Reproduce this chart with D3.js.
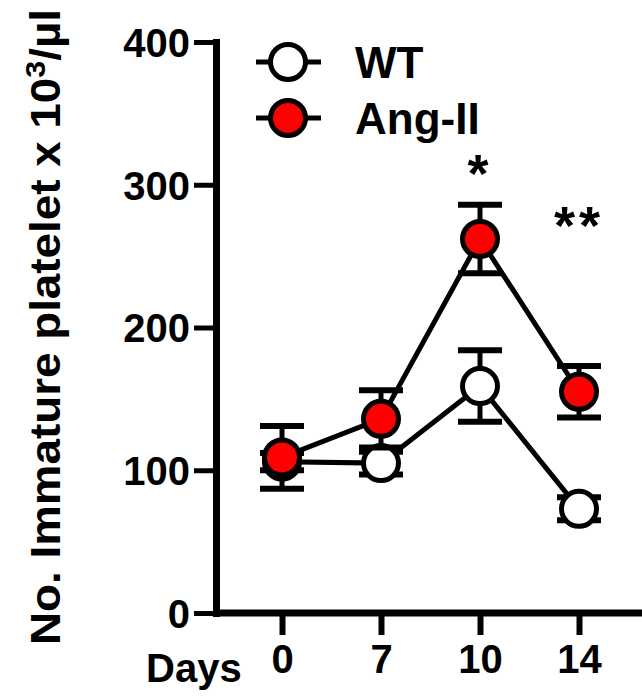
<!DOCTYPE html>
<html>
<head>
<meta charset="utf-8">
<script src="https://cdn.jsdelivr.net/npm/d3@7"></script>
<style>
  body { margin: 0; background: #fff; }
  svg { display: block; font-family: Arial, "Liberation Sans", sans-serif; font-weight: bold; }
</style>
</head>
<body>
<div id="chart"></div>
<script>
// data
const days = ["0", "7", "10", "14"]
const wtMean = [106, 105, 159, 73]
const wtErr = [6, 8, 25, 8]
const angMean = [109, 136, 262, 155]
const angErr = [22, 20, 24, 18]
const yTicks = [0, 100, 200, 300, 400]
const stars = [{ day: "10", value: 313, label: "*" }, { day: "14", value: 277, label: "**" }]

const width = 642
const height = 696

const svg = d3.select("#chart")
  .append("svg")
  .attr("width", width)
  .attr("height", height)

// plot frame
const axisX = 216
const baseY = 613

const x = d3.scalePoint().domain(days).range([282, 579])
const y = d3.scaleLinear().domain([0, 400]).range([baseY, 42])

// y axis
const yAxis = svg.append("g")
  .attr("transform", `translate(${axisX},0)`)
  .call(d3.axisLeft(y).tickValues(yTicks).tickSize(22).tickSizeOuter(0).tickPadding(4))
yAxis.select(".domain").attr("stroke", "#000").attr("stroke-width", 7).attr("stroke-linecap", "square")
yAxis.selectAll(".tick line").attr("stroke", "#000").attr("stroke-width", 5)
yAxis.selectAll(".tick text")
  .attr("fill", "#000")
  .attr("font-size", 40)
  .attr("font-family", "Arial, 'Liberation Sans', sans-serif")
  .attr("font-weight", "bold")
  .attr("dy", "0.36em")

// x axis
svg.append("line")
  .attr("x1", axisX - 3).attr("x2", width)
  .attr("y1", baseY).attr("y2", baseY)
  .attr("stroke", "#000").attr("stroke-width", 7)
const xAxis = svg.append("g")
  .attr("transform", `translate(0,${baseY})`)
  .call(d3.axisBottom(x).tickSize(22).tickSizeOuter(0).tickPadding(10))
xAxis.select(".domain").remove()
xAxis.selectAll(".tick line").attr("stroke", "#000").attr("stroke-width", 6)
xAxis.selectAll(".tick text")
  .attr("fill", "#000")
  .attr("font-size", 40)
  .attr("font-family", "Arial, 'Liberation Sans', sans-serif")
  .attr("font-weight", "bold")

svg.append("text")
  .attr("x", 146).attr("y", 682)
  .attr("font-size", 40)
  .text("Days")

// y axis title
const title = svg.append("text")
  .attr("transform", "translate(60,327) rotate(-90)")
  .attr("text-anchor", "middle")
  .attr("font-size", 42)
  .attr("textLength", 636)
  .attr("lengthAdjust", "spacingAndGlyphs")
title.append("tspan").text("No. Immature platelet x 10")
title.append("tspan").attr("dy", -15).attr("font-size", 28).text("3")
title.append("tspan").attr("dy", 15).text("/µl")

// series
const series = [
  { name: "WT", mean: wtMean, err: wtErr, fill: "#fff" },
  { name: "Ang-II", mean: angMean, err: angErr, fill: "#ff0000" }
]

const line = d3.line()
  .x((d, i) => x(days[i]))
  .y(d => y(d))

series.forEach(s => {
  const g = svg.append("g")
  const pts = days.map((d, i) => ({ day: d, m: s.mean[i], e: s.err[i] }))

  // error bars
  const eb = g.selectAll(".eb").data(pts).join("g")
  eb.append("line")
    .attr("x1", d => x(d.day)).attr("x2", d => x(d.day))
    .attr("y1", d => y(d.m + d.e)).attr("y2", d => y(d.m - d.e))
    .attr("stroke", "#000").attr("stroke-width", 5)
  eb.selectAll(".cap").data(d => [d.m + d.e, d.m - d.e].map(v => ({ day: d.day, v })))
    .join("line")
    .attr("x1", d => x(d.day) - 22).attr("x2", d => x(d.day) + 22)
    .attr("y1", d => y(d.v)).attr("y2", d => y(d.v))
    .attr("stroke", "#000").attr("stroke-width", 6)

  g.append("path")
    .attr("d", line(s.mean))
    .attr("fill", "none")
    .attr("stroke", "#000")
    .attr("stroke-width", 5)

  g.selectAll("circle").data(pts).join("circle")
    .attr("cx", d => x(d.day))
    .attr("cy", d => y(d.m))
    .attr("r", 17.5)
    .attr("fill", s.fill)
    .attr("stroke", "#000")
    .attr("stroke-width", 5)
})

// significance marks
svg.selectAll(".star").data(stars).join("text")
  .attr("x", d => x(d.day))
  .attr("y", d => y(d.value) + 26)
  .attr("text-anchor", "middle")
  .attr("font-size", 54)
  .attr("letter-spacing", 4)
  .text(d => d.label)

// legend
const legend = svg.append("g")
series.forEach((s, i) => {
  const ly = 62 + i * 56
  legend.append("line")
    .attr("x1", 256).attr("x2", 321)
    .attr("y1", ly).attr("y2", ly)
    .attr("stroke", "#000").attr("stroke-width", 5)
  legend.append("circle")
    .attr("cx", 288).attr("cy", ly).attr("r", 17.5)
    .attr("fill", s.fill).attr("stroke", "#000").attr("stroke-width", 5)
  legend.append("text")
    .attr("x", 355).attr("y", ly + 16)
    .attr("font-size", 44)
    .text(s.name)
})
</script>
</body>
</html>
